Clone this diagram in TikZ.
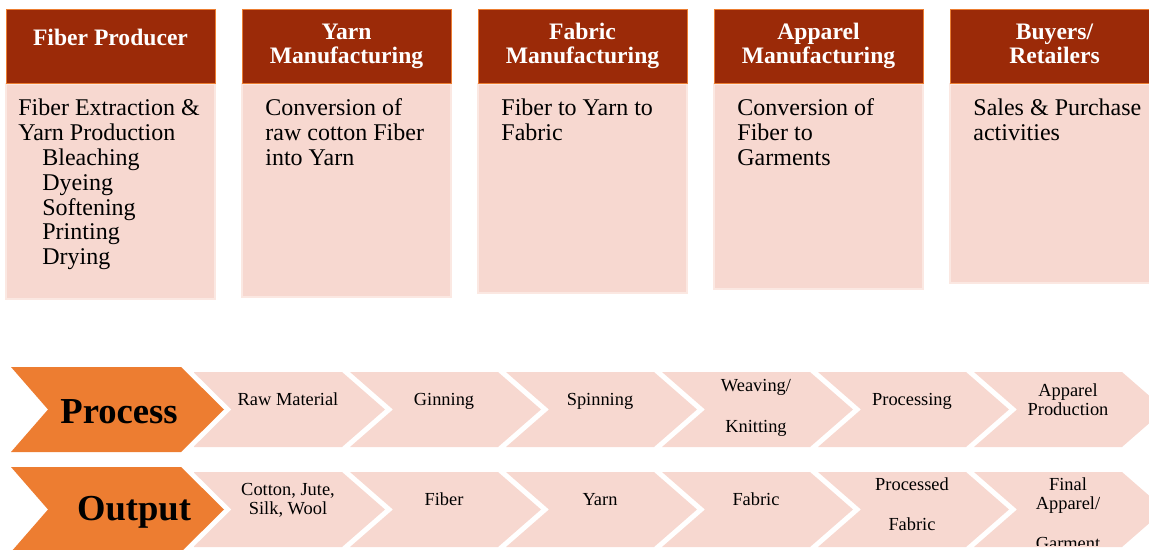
\documentclass[tikz,border=0pt]{standalone}
\usepackage{fontspec}
\setmainfont{Liberation Serif}
\definecolor{hdrred}{RGB}{155,42,8}
\definecolor{hdredge}{RGB}{236,125,49}
\definecolor{softpink}{RGB}{247,216,208}
\definecolor{pinkedge}{RGB}{251,232,226}
\definecolor{accentorange}{RGB}{237,125,49}
\tikzset{
  hdrbox/.style={fill=hdrred, draw=hdredge, line width=0.5pt},
  bodybox/.style={fill=softpink, draw=pinkedge, line width=0.6pt},
  hdrtext/.style={anchor=base, inner sep=0pt, text=white,
    font=\bfseries\fontsize{11.8}{11.5}\selectfont},
  bodytext/.style={anchor=base west, inner sep=0pt,
    font=\fontsize{12}{12.4}\selectfont},
  chev/.style={fill=softpink},
  bigchev/.style={fill=accentorange},
  tipgap/.style={draw=white, line width=5pt, line join=miter},
  bigtext/.style={anchor=base, inner sep=0pt, font=\bfseries\fontsize{18.3}{20}\selectfont},
  steplabel/.style={anchor=base, inner sep=0pt, font=\fontsize{9.2}{9.5}\selectfont},
}
\newcommand{\stack}[2][l]{\begin{tabular}[t]{@{}#1@{}}#2\end{tabular}}
\begin{document}
\begin{tikzpicture}[x=0.5pt, y=-0.5pt]
  \useasboundingbox (0,0) rectangle (1149,550);
  \clip (0,0) rectangle (1149,550);

  % ---- stage columns: header strip and description panel ----
  \foreach \l/\b in {6/299, 242/297, 478/293, 714/289, 950/283} {
    \path[bodybox] (\l,84) rectangle (\l+209,\b);
    \path[hdrbox]  (\l,10) rectangle (\l+209,84);
  }

  \node[hdrtext] (h1) at (110.5,46) {Fiber Producer};
  \node[hdrtext] (h2) at (346.5,40) {\stack[c]{Yarn\\Manufacturing}};
  \node[hdrtext] (h3) at (582.5,40) {\stack[c]{Fabric\\Manufacturing}};
  \node[hdrtext] (h4) at (818.5,40) {\stack[c]{Apparel\\Manufacturing}};
  \node[hdrtext] (h5) at (1054.5,40) {\stack[c]{Buyers/\\Retailers}};

  \node[bodytext] (d1) at (18,116) {\stack{Fiber Extraction \&\\Yarn Production\\
    \hspace*{12pt}Bleaching\\\hspace*{12pt}Dyeing\\\hspace*{12pt}Softening\\
    \hspace*{12pt}Printing\\\hspace*{12pt}Drying}};
  \node[bodytext] (d2) at (265,116) {\stack{Conversion of\\raw cotton Fiber\\into Yarn}};
  \node[bodytext] (d3) at (501,116) {\stack{Fiber to Yarn to\\Fabric}};
  \node[bodytext] (d4) at (737,116) {\stack{Conversion of\\Fiber to\\Garments}};
  \node[bodytext] (d5) at (973,116) {\stack{Sales \& Purchase\\activities}};

  % ---- chevron chains: process row and output row ----
  \foreach \t/\m/\u in {372/409.5/447, 472/509.5/547} {
    \path[chev] (194,\t) -- (342,\t) -- (385,\m) -- (342,\u) -- (194,\u) -- cycle;
    \foreach \i in {1,...,5} {
      \path[chev] (194+156*\i,\t) -- (342+156*\i,\t) -- (385+156*\i,\m)
        -- (342+156*\i,\u) -- (194+156*\i,\u) -- (237+156*\i,\m) -- cycle;
    }
  }
  % white gap around the tips of the two heading chevrons
  \path[tipgap] (181,367) -- (224,409.5) -- (181,452);
  \path[tipgap] (181,467) -- (224,509.5) -- (181,552);
  \path[bigchev] (11,367) -- (181,367) -- (224,409.5) -- (181,452) -- (11,452) -- (48,409.5) -- cycle;
  \path[bigchev] (11,467) -- (181,467) -- (224,509.5) -- (181,552) -- (11,552) -- (48,509.5) -- cycle;

  \node[bigtext] (process) at (119,423) {Process};
  \node[bigtext] (output)  at (134,520) {Output};

  % process steps
  \node[steplabel] (p1) at (288,405) {Raw Material};
  \node[steplabel] (p2) at (444,405) {Ginning};
  \node[steplabel] (p3) at (600,405) {Spinning};
  \node[steplabel] (p4) at (756,391) {\stack[c]{Weaving/\\[11pt]Knitting}};
  \node[steplabel] (p5) at (912,405) {Processing};
  \node[steplabel] (p6) at (1068,396) {\stack[c]{Apparel\\Production}};

  % outputs of each step
  \node[steplabel] (o1) at (288,495) {\stack[c]{Cotton, Jute,\\Silk, Wool}};
  \node[steplabel] (o2) at (444,505) {Fiber};
  \node[steplabel] (o3) at (600,505) {Yarn};
  \node[steplabel] (o4) at (756,505) {Fabric};
  \node[steplabel] (o5) at (912,490) {\stack[c]{Processed\\[10.5pt]Fabric}};
  \begin{scope}
    \clip (960,460) rectangle (1149,545);
    \node[steplabel] (o6) at (1068,490) {\stack[c]{Final\\Apparel/\\[10.5pt]Garment}};
  \end{scope}
\end{tikzpicture}
\end{document}
